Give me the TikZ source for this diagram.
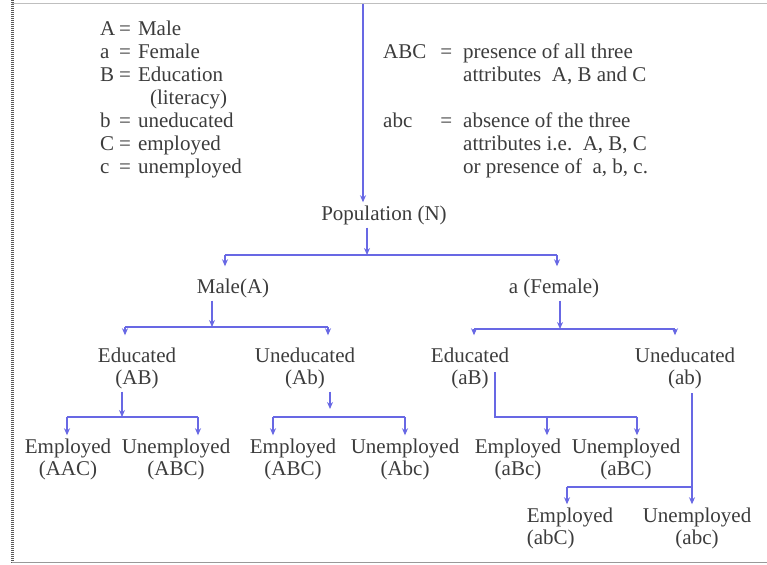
\documentclass[tikz,border=0pt]{standalone}
\usepackage{fontspec}
\setmainfont{Liberation Serif}
\usetikzlibrary{arrows.meta}
\definecolor{blu}{RGB}{104,104,228}
\definecolor{txt}{RGB}{60,60,60}
\pgfdeclarelayer{bg}
\pgfsetlayers{bg,main}
\tikzset{
    every node/.style={inner sep=3pt, text=txt, align=center, font=\fontsize{21}{22}\selectfont}
}
\tikzset{link/.style={draw=blu, line width=2pt}}
\tikzset{arr/.style={link, -{Stealth[length=7pt,width=6pt]}}}
\tikzset{arrgap/.style={arr, shorten >=9pt}}
\tikzset{keybox/.style={anchor=north west, inner sep=0pt, font=\fontsize{21}{23}\selectfont}}

\begin{document}
\begin{tikzpicture}[x=1pt, y=-1pt]
  \useasboundingbox (0,0) rectangle (767,564);
  \draw[black!65, line width=3pt, dash pattern=on 1pt off 1pt] (12,0) -- (12,564);
  \draw[black!25] (12,3) -- (767,3);
  \draw[black!40] (12,562) -- (767,562);

  \node[keybox] (key1) at (100,19) {%
    \begin{tabular}{@{}p{19pt}@{}l@{\hspace{7pt}}l@{}}
      A & = & Male\\
      a & = & Female\\
      B & = & Education\\
        &   & \hspace{12pt}(literacy)\\
      b & = & uneducated\\
      C & = & employed\\
      c & = & unemployed
    \end{tabular}};
  \node[keybox] (key2) at (383,42) {%
    \begin{tabular}{@{}l@{\hspace{14pt}}l@{\hspace{11pt}}l@{}}
      ABC & = & presence of all three\\
          &   & attributes\ \ A, B and C\\
          &   & \\
      abc & = & absence of the three\\
          &   & attributes i.e.\ \ A, B, C\\
          &   & or presence of\ \ a,\ b, c.
    \end{tabular}};

  \node (pop) at (384,215) {Population (N)};
  \node (m) at (233,288) {Male(A)};
  \node (f) at (554,288) {a (Female)};

  \node (me) at (137,368) {Educated\\(AB)};
  \node (mu) at (305,368) {Uneducated\\(Ab)};
  \node (fe) at (470,368) {Educated\\(aB)};
  \node (fu) at (685,368) {Uneducated\\(ab)};

  \node (me1) at (68,459) {Employed\\(AAC)};
  \node (me2) at (176,459) {Unemployed\\(ABC)};
  \node (mu1) at (293,459) {Employed\\(ABC)};
  \node (mu2) at (405,459) {Unemployed\\(Abc)};
  \node (fe1) at (518,459) {Employed\\(aBc)};
  \node (fe2) at (626,459) {Unemployed\\(aBC)};
  \node[align=left] (fu1) at (570,528) {Employed\\(abC)};
  \node (fu2) at (697,528) {Unemployed\\(abc)};

  \coordinate (top) at (363,3);
  \coordinate (pj) at (367,255);
  \coordinate (pL) at (225,255);
  \coordinate (pR) at (557,255);
  \coordinate (mj) at (212,327);
  \coordinate (mL) at (125,327);
  \coordinate (mR) at (328,327);
  \coordinate (fj) at (560,329);
  \coordinate (fL) at (474,329);
  \coordinate (fR) at (675,329);
  \coordinate (mej) at (122,417);
  \coordinate (meL) at (67,417);
  \coordinate (meR) at (198,417);
  \coordinate (muj) at (330,409);
  \coordinate (muL) at (273,417);
  \coordinate (muR) at (405,417);
  \coordinate (feo) at (495,372);
  \coordinate (feM) at (547,417);
  \coordinate (feR) at (637,417);
  \coordinate (fuo) at (692,393);
  \coordinate (fuM) at (692,487);
  \coordinate (fuL) at (567,487);

  \begin{pgfonlayer}{bg}
	  \draw[arr] (top) -- (top |- pop.north);
	  \draw[arr] (pop.south -| pj) -- (pj);
	  \draw[link] (pL) -- (pR);
	  \draw[arrgap] (pL) -- (pL |- m.north);
	  \draw[arrgap] (pR) -- (pR |- f.north);

	  \draw[arr] (m.south -| mj) -- (mj);
	  \draw[link] (mL) -- (mR);
	  \draw[arrgap] (mL) -- (mL |- me.north);
	  \draw[arrgap] (mR) -- (mR |- mu.north);

	  \draw[arr] (f.south -| fj) -- (fj);
	  \draw[link] (fL) -- (fR);
	  \draw[arrgap] (fL) -- (fL |- fe.north);
	  \draw[arrgap] (fR) -- (fR |- fu.north);

	  \draw[arr] (me.south -| mej) -- (mej);
	  \draw[link] (meL) -- (meR);
	  \draw[arr] (meL) -- (meL |- me1.north);
	  \draw[arr] (meR) -- (meR |- me2.north);

	  \draw[arr] (mu.south -| muj) -- (muj);
	  \draw[link] (muL) -- (muR);
	  \draw[arr] (muL) -- (muL |- mu1.north);
	  \draw[arr] (muR) -- (muR |- mu2.north);

	  \draw[link] (feo) |- (feR);
	  \draw[arr] (feM) -- (feM |- fe1.north);
	  \draw[arr] (feR) -- (feR |- fe2.north);

	  \draw[arr] (fuo) -- (fuo |- fu2.north);
	  \draw[link] (fuM) -- (fuL);
	  \draw[arr] (fuL) -- (fuL |- fu1.north);
  \end{pgfonlayer}

\end{tikzpicture}
\end{document}
